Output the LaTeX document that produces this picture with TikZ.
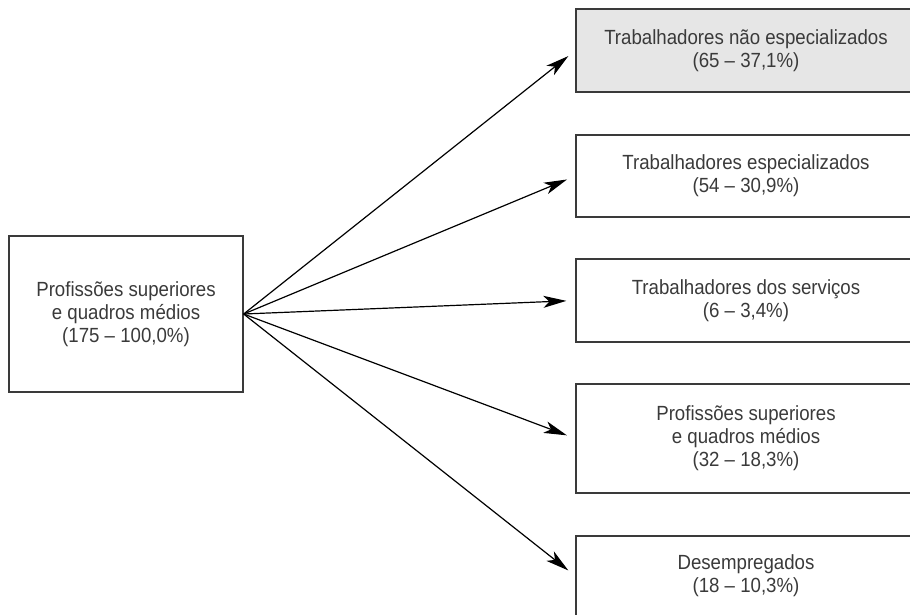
\documentclass[tikz,border=0pt]{standalone}
\usepackage{fontspec}
\setmainfont{Liberation Sans}[FakeStretch=0.91]
\usetikzlibrary{arrows.meta}
\definecolor{inkgray}{HTML}{3A3A3A}
\definecolor{boxgray}{HTML}{E6E6E6}
\begin{document}
\begin{tikzpicture}[x=1pt,y=-1pt,
  box/.style={draw=inkgray,line width=1.3pt,rectangle,inner sep=0pt,
    align=center,text=inkgray,font=\fontsize{20.5}{23}\selectfont},
  srcbox/.style={box,minimum width=234pt,minimum height=156pt},
  tgtbox/.style={box,minimum width=340pt},
  arr/.style={draw=black,line width=1.2pt,shorten >=9pt,
    -{Stealth[length=23pt,width=12pt,inset=6pt]}}]
\useasboundingbox (0,0) rectangle (910,614);
% source group
\node[srcbox] (src) at (126,314) {Profissões superiores\\e quadros médios\\(175 – 100,0\%)};
% destination groups
\node[tgtbox,fill=boxgray,minimum height=83pt] (t1) at (746,50.5) {Trabalhadores não especializados\\(65 – 37,1\%)};
\node[tgtbox,minimum height=82pt] (t2) at (746,176) {Trabalhadores especializados\\(54 – 30,9\%)};
\node[tgtbox,minimum height=83pt] (t3) at (746,300.5) {Trabalhadores dos serviços\\(6 – 3,4\%)};
\node[tgtbox,minimum height=109pt] (t4) at (746,438.5) {Profissões superiores\\e quadros médios\\(32 – 18,3\%)};
\node[tgtbox,minimum height=80pt] (t5) at (746,576) {Desempregados\\(18 – 10,3\%)};
% flows
\foreach \t in {t1,t2,t3,t4,t5}
  \draw[arr] (src.east) -- (\t.west);
\end{tikzpicture}
\end{document}
